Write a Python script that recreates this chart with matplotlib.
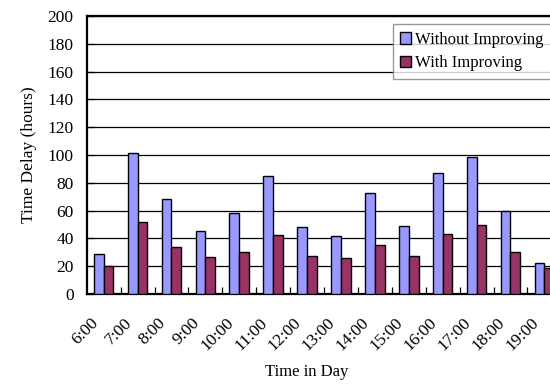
import matplotlib
matplotlib.use("Agg")
import matplotlib.pyplot as plt
import matplotlib.transforms as mtransforms
import numpy as np

hours = ["6:00", "7:00", "8:00", "9:00", "10:00", "11:00", "12:00",
         "13:00", "14:00", "15:00", "16:00", "17:00", "18:00", "19:00"]
without_improving = [28.5, 101.5, 68.5, 45.5, 58, 85, 48,
                     42, 72.5, 49, 87, 98.5, 60, 22.5]
with_improving = [20.5, 51.5, 34, 26.5, 30, 42.5, 27,
                  26, 35.5, 27.5, 43.5, 50, 30.5, 18.5]

plt.rcParams['font.family'] = ['Liberation Serif', 'DejaVu Serif']
plt.rcParams['font.size'] = 12

fig = plt.figure(figsize=(5.5, 3.85), dpi=100)
W, H = 550, 385
left, right, top, bottom = 86.7, 561.3, 16, 294
ax = fig.add_axes([left / W, 1 - bottom / H, (right - left) / W, (bottom - top) / H])

x = np.arange(len(hours))
bw = 0.29
ax.bar(x - bw / 2, without_improving, bw, color='#9999FF', edgecolor='black',
       linewidth=1.0, label='Without Improving', zorder=3)
ax.bar(x + bw / 2, with_improving, bw, color='#993366', edgecolor='black',
       linewidth=1.0, label='With Improving', zorder=3)

ax.set_xlim(-0.5, len(hours) - 0.5)
ax.set_ylim(0, 200)
ax.set_yticks(np.arange(0, 201, 20))
ax.yaxis.grid(True, color='black', linewidth=0.9, zorder=0)
ax.set_axisbelow(True)

# category boundary ticks on the x axis, labels at category centres
ax.set_xticks(np.arange(0.5, len(hours) - 0.5, 1.0))
ax.set_xticklabels([])
ax.set_xticks(x, minor=True)
ax.set_xticklabels(hours, minor=True, rotation=45, ha='right', va='center',
                   rotation_mode='anchor', fontsize=12.5)
ax.tick_params(axis='x', which='major', direction='in', length=5, width=0.9)
ax.tick_params(axis='x', which='minor', length=0, pad=19)
ax.tick_params(axis='y', direction='in', length=5, width=0.9, pad=9.5,
               labelsize=12.5)

# nudge the rotated hour labels slightly to the left
shift = mtransforms.ScaledTranslation(-8 / 100, 0, fig.dpi_scale_trans)
for lbl in ax.get_xticklabels(minor=True):
    lbl.set_transform(lbl.get_transform() + shift)

for s in ['left', 'bottom', 'top', 'right']:
    ax.spines[s].set_linewidth(1.6)
    ax.spines[s].set_color('black')

ax.set_ylabel('Time Delay (hours)', fontsize=12.5)
ax.yaxis.set_label_coords(-(left - 29) / (right - left), 0.5)
ax.set_xlabel('Time in Day', fontsize=12)
ax.xaxis.set_label_coords((307 - left) / (right - left), -(372 - bottom) / (bottom - top))
ax.xaxis.label.set_va('center')
ax.yaxis.label.set_va('center')

leg = fig.legend(loc='upper left', bbox_to_anchor=(392.7 / W, 1 - 24.3 / H),
                 frameon=True, fancybox=False, edgecolor='#808080',
                 handlelength=0.66, handleheight=0.66, handletextpad=0.25,
                 borderpad=0.45, labelspacing=0.45, borderaxespad=0)
leg.get_frame().set_linewidth(1.0)

fig.savefig('out.png', dpi=100)
